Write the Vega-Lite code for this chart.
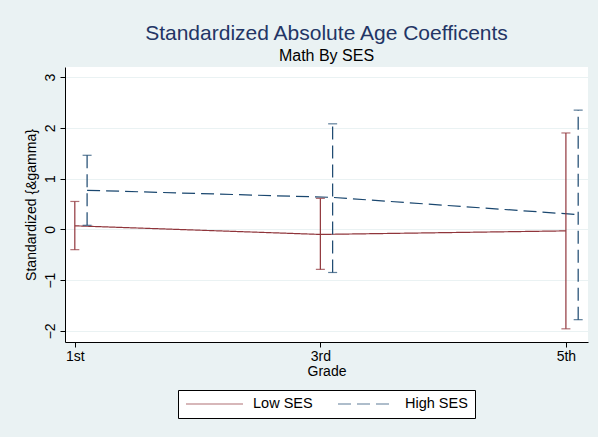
{
  "$schema": "https://vega.github.io/schema/vega-lite/v6.json",
  "autosize": {"type": "none"},
  "padding": {"left": 65, "top": 67, "right": 10, "bottom": 95},
  "width": 523,
  "height": 275,
  "background": "#EAF2F3",
  "config": {
    "view": {"fill": "white", "stroke": null},
    "font": "Liberation Sans"
  },
  "title": {
    "text": "Standardized Absolute Age Coefficents",
    "subtitle": "Math By SES",
    "fontSize": 21,
    "fontWeight": "normal",
    "color": "#233565",
    "subtitleFontSize": 16,
    "subtitleColor": "black",
    "subtitlePadding": 4,
    "anchor": "middle",
    "offset": 3
  },
  "data": {
    "values": [
      {"grade": 1, "pos": 1.0, "group": "Low SES", "est": 0.07, "lo": -0.4, "hi": 0.55},
      {"grade": 3, "pos": 3.0, "group": "Low SES", "est": -0.1, "lo": -0.79, "hi": 0.61},
      {"grade": 5, "pos": 5.0, "group": "Low SES", "est": -0.03, "lo": -1.96, "hi": 1.9},
      {"grade": 1, "pos": 1.1, "group": "High SES", "est": 0.77, "lo": 0.08, "hi": 1.46},
      {"grade": 3, "pos": 3.1, "group": "High SES", "est": 0.63, "lo": -0.85, "hi": 2.08},
      {"grade": 5, "pos": 5.1, "group": "High SES", "est": 0.29, "lo": -1.78, "hi": 2.35}
    ]
  },
  "encoding": {
    "x": {
      "field": "pos",
      "type": "quantitative",
      "scale": {"domain": [0.92, 5.18], "nice": false, "zero": false},
      "axis": {
        "values": [1, 3, 5],
        "labelExpr": "datum.value == 1 ? '1st' : datum.value == 3 ? '3rd' : '5th'",
        "grid": false,
        "title": "Grade",
        "titleFontSize": 14,
        "titleFontWeight": "normal",
        "titlePadding": 1,
        "labelFontSize": 14,
        "labelColor": "black",
        "titleColor": "black",
        "domainColor": "#000000",
        "tickColor": "#000000",
        "tickSize": 5,
        "labelPadding": 2
      }
    },
    "color": {
      "field": "group",
      "type": "nominal",
      "scale": {"domain": ["Low SES", "High SES"], "range": ["#90353B", "#1A476F"]},
      "legend": {
        "orient": "none",
        "legendX": 113,
        "legendY": 323,
        "direction": "horizontal",
        "columns": 2,
        "title": null,
        "strokeColor": "#000000",
        "fillColor": "white",
        "padding": 7,
        "clipHeight": 14,
        "symbolType": "stroke",
        "symbolSize": 3249,
        "symbolStrokeWidth": 1.2,
        "labelFontSize": 14.5,
        "labelColor": "black",
        "labelOffset": 9,
        "columnPadding": 24
      }
    }
  },
  "layer": [
    {
      "mark": {"type": "line", "strokeWidth": 1.2},
      "encoding": {
        "y": {
          "field": "est",
          "type": "quantitative",
          "scale": {"domain": [-2.22, 3.2], "nice": false, "zero": false},
          "axis": {
            "values": [-2, -1, 0, 1, 2, 3],
            "grid": true,
            "gridColor": "#EAF2F3",
            "gridWidth": 1,
            "labelAngle": -90,
            "labelAlign": "center",
            "labelBaseline": "bottom",
            "labelFontSize": 14,
            "labelColor": "black",
            "labelPadding": 3,
            "title": "Standardized {&gamma}",
            "titleFontSize": 14,
            "titleFontWeight": "normal",
            "titleColor": "black",
            "titlePadding": 5,
            "domainColor": "#000000",
            "tickColor": "#000000",
            "tickSize": 5
          }
        },
        "strokeDash": {
          "field": "group",
          "type": "nominal",
          "scale": {"domain": ["Low SES", "High SES"], "range": [[1, 0], [13, 6]]}
        }
      }
    },
    {
      "mark": {"type": "rule", "strokeWidth": 1.2},
      "encoding": {
        "y": {"field": "lo", "type": "quantitative"},
        "y2": {"field": "hi"},
        "strokeDash": {
          "field": "group",
          "type": "nominal",
          "scale": {"domain": ["Low SES", "High SES"], "range": [[1, 0], [13, 6]]}
        }
      }
    },
    {
      "mark": {"type": "tick", "orient": "horizontal", "size": 9, "thickness": 1.2},
      "encoding": {"y": {"field": "lo", "type": "quantitative"}}
    },
    {
      "mark": {"type": "tick", "orient": "horizontal", "size": 9, "thickness": 1.2},
      "encoding": {"y": {"field": "hi", "type": "quantitative"}}
    }
  ]
}
